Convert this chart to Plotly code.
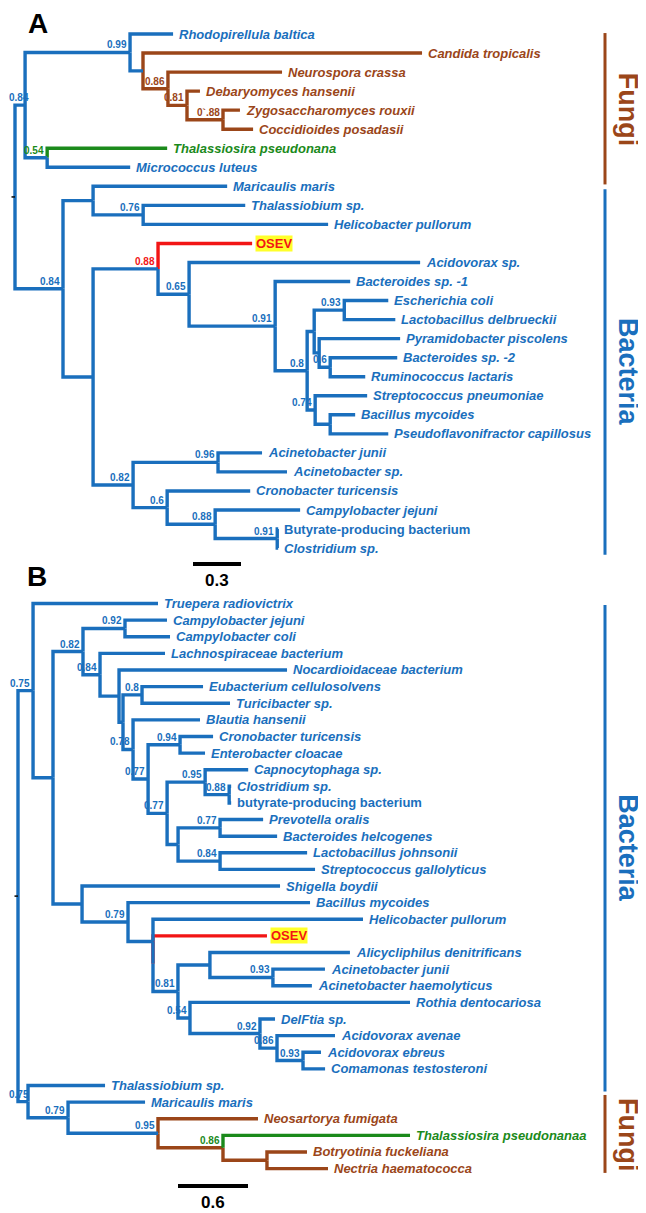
import plotly.graph_objects as go

# ------------------------------------------------------------------ data
# Panel A tree (Newick: branch lengths in substitutions/site, internal labels = support)
TREE_A = (
    "(((Rhodopirellula baltica:0.269,(Candida tropicalis:1.744,(Neurospora crassa:0.713,"
    "(Debaryomyces hansenii:0.081,(Zygosaccharomyces rouxii:0.106,Coccidioides posadasii:0.188)0`.88:0.225)0.81:0.119)0.86:0.156):0.081)0.99:0.656,"
    "(Thalassiosira pseudonana:0.75,Micrococcus luteus:0.519)0.54:0.138)0.84:0.063,"
    "((Maricaulis maris:0.838,(Thalassiobium sp.:0.638,Helicobacter pullorum:1.156)0.76:0.313):0.188,"
    "((OSEV:0.588,(Acidovorax sp.:1.444,(Bacteroides sp. -1:0.469,"
    "(((Escherichia coli:0.275,Lactobacillus delbrueckii:0.319)0.93:0.188,"
    "(Pyramidobacter piscolens:0.506,(Bacteroides sp. -2:0.419,Ruminococcus lactaris:0.219)0.6:0.069):0.031):0.044,"
    "(Streptococcus pneumoniae:0.325,(Bacillus mycoides:0.156,Pseudoflavonifractor capillosus:0.363):0.094)0.74:0.05)0.8:0.2)0.91:0.538)0.65:0.194)0.88:0.406,"
    "((Acinetobacter junii:0.275,Acinetobacter sp.:0.431)0.96:0.531,"
    "(Cronobacter turicensis:0.519,(Campylobacter jejuni:0.531,"
    "(Butyrate-producing bacterium:0.006,Clostridium sp.:0.006)0.91:0.388)0.88:0.3)0.6:0.213)0.82:0.25):0.188)0.84:0.3);"
)

# Panel B tree
TREE_B = (
    "((Truepera radiovictrix:1.071,"
    "(((Campylobacter jejuni:0.36,Campylobacter coli:0.386)0.92:0.36,"
    "(Lachnospiraceae bacterium:0.557,(Nocardioidaceae bacterium:1.44,"
    "((Eubacterium cellulosolvens:0.523,Turicibacter sp.:0.754)0.8:0.163,"
    "(Blautia hansenii:0.574,((Cronobacter turicensis:0.283,Enterobacter cloacae:0.214)0.94:0.274,"
    "((Capnocytophaga sp.:0.369,(Clostridium sp.:0.017,butyrate-producing bacterium:0.017)0.88:0.206)0.95:0.326,"
    "((Prevotella oralis:0.369,Bacteroides helcogenes:0.489)0.77:0.36,"
    "(Lactobacillus johnsonii:0.746,Streptococcus gallolyticus:0.814)0.84:0.36):0.094)0.77:0.163)0.77:0.129)0.78:0.086"
    "):0.034):0.163)0.84:0.146)0.82:0.257,"
    "(Shigella boydii:1.697,(Bacillus mycoides:1.56,(Helicobacter pullorum:1.8,"
    "(OSEV:0.977,((Alicycliphilus denitrificans:1.2,(Acinetobacter junii:0.446,Acinetobacter haemolyticus:0.334)0.93:0.54):0.274,"
    "(Rothia dentocariosa:1.886,(DelFtia sp.:0.129,(Acidovorax avenae:0.497,"
    "(Acidovorax ebreus:0.154,Comamonas testosteroni:0.189)0.93:0.223)0.86:0.146)0.92:0.6)0.54:0.103)0.81:0.214):0.0"
    "):0.214)0.79:0.394):0.249):0.171)0.75:0.129,"
    "(Thalassiobium sp.:0.66,(Maricaulis maris:0.66,(Neosartorya fumigata:0.857,"
    "(Thalassiosira pseudonanaa:1.603,(Botryotinia fuckeliana:0.343,Nectria haematococca:0.523):0.377)0.86:0.557)0.95:0.771)0.79:0.343)0.75:0.086);"
)

FUNGI = ["Candida tropicalis", "Neurospora crassa", "Debaryomyces hansenii",
         "Zygosaccharomyces rouxii", "Coccidioides posadasii",
         "Neosartorya fumigata", "Botryotinia fuckeliana", "Nectria haematococca"]
DIATOMS = ["Thalassiosira pseudonana", "Thalassiosira pseudonanaa"]
QUERY = ["OSEV"]
UPRIGHT = ["Butyrate-producing bacterium", "butyrate-producing bacterium"]

SCALE_A = 0.3
SCALE_B = 0.6
SCALE_LABEL_A = "0.3"
SCALE_LABEL_B = "0.6"

# clade bars: (label, first leaf, last leaf)
CLADES_A = [("Fungi", "Rhodopirellula baltica", "Micrococcus luteus"),
            ("Bacteria", "Maricaulis maris", "Clostridium sp.")]
CLADES_B = [("Bacteria", "Truepera radiovictrix", "Thalassiobium sp."),
            ("Fungi", "Maricaulis maris", "Nectria haematococca")]

# ------------------------------------------------------------------ style
WIN_W, WIN_H = 646, 1213
OFF = 8                      # page body margin of the html page
W, H = WIN_W - OFF, WIN_H - OFF
BLUE = "#1a6fbd"
BROWN = "#9b4619"
GREEN = "#1b8a1b"
RED = "#f21515"
YELLOW = "#ffff2a"
FONT = "Liberation Sans, Arial, sans-serif"
LW = 3.4
LEAF_FS = 13
NODE_FS = 10


def px_x(rx):
    return (rx - OFF) / W


def px_y(ry):
    return 1 - (ry - OFF) / H


# pixel geometry of the two panels (window pixels)
PANEL = {
    "A": dict(xa="x", ya="y", root_px=15, ppu=160.0, leaf0_px=34.0, step=19.04,
              top_px=OFF, bot_px=600, scale=SCALE_A, scale_lbl=SCALE_LABEL_A,
              scale_px=(193, 564), clades=CLADES_A,
              bar_pad=[(-0.05, 0.9), (0.15, 0.35)]),
    "B": dict(xa="x2", ya="y2", root_px=18, ppu=116.67, leaf0_px=603.5, step=16.62,
              top_px=600, bot_px=WIN_H, scale=SCALE_B, scale_lbl=SCALE_LABEL_B,
              scale_px=(178, 1186), clades=CLADES_B,
              bar_pad=[(0.09, 0.36), (-0.43, 0.26)]),
}


def parse_newick(s):
    s = s.strip().rstrip(";")
    pos = 0

    def node():
        nonlocal pos
        n = {"children": [], "name": "", "len": 0.0}
        if s[pos] == "(":
            pos += 1
            while True:
                n["children"].append(node())
                if s[pos] == ",":
                    pos += 1
                    continue
                if s[pos] == ")":
                    pos += 1
                    break
        start = pos
        while pos < len(s) and s[pos] not in ",():":
            pos += 1
        n["name"] = s[start:pos].strip()
        if pos < len(s) and s[pos] == ":":
            pos += 1
            start = pos
            while pos < len(s) and s[pos] not in ",()":
                pos += 1
            n["len"] = float(s[start:pos])
        return n

    return node()


def cls(name):
    if name in FUNGI:
        return "fungi"
    if name in DIATOMS:
        return "diatom"
    if name in QUERY:
        return "query"
    return "bac"


CCOL = {"fungi": BROWN, "diatom": GREEN, "query": RED, "bac": BLUE}


def layout_tree(root):
    leaves = []

    def rec(n, x):
        n["x"] = x
        if not n["children"]:
            n["y"] = float(len(leaves))
            n["classes"] = {cls(n["name"])}
            leaves.append(n)
        else:
            for c in n["children"]:
                rec(c, x + c["len"])
            n["y"] = (n["children"][0]["y"] + n["children"][-1]["y"]) / 2
            n["classes"] = set().union(*[c["classes"] for c in n["children"]])

    rec(root, 0.0)
    return leaves


def edge_color(parent, child):
    if not child["children"]:
        return CCOL[cls(child["name"])]
    pc = parent["classes"]
    if "fungi" in pc and "bac" not in pc and "query" not in pc:
        return BROWN
    return BLUE


fig = go.Figure()
annotations = []

for key, tree_str in (("A", TREE_A), ("B", TREE_B)):
    P = PANEL[key]
    root = parse_newick(tree_str)
    leaves = layout_tree(root)
    leaf_idx = {l["name"]: l["y"] for l in leaves}
    xa, ya = P["xa"], P["ya"]
    xref, yref = xa, ya

    segs = {BROWN: ([], []), GREEN: ([], []), RED: ([], []), BLUE: ([], [])}
    node_labels = []

    def walk(n, in_color):
        for c in n["children"]:
            col = edge_color(n, c)
            xs, ys = segs[col]
            xs += [n["x"], n["x"], c["x"], None]
            ys += [n["y"], c["y"], c["y"], None]
            walk(c, col)
        if n["children"] and n["name"]:
            lc = in_color
            for c in n["children"]:
                if not c["children"] and cls(c["name"]) in ("diatom", "query"):
                    lc = CCOL[cls(c["name"])]
            node_labels.append((n, lc))

    walk(root, BLUE)

    for col in (BROWN, GREEN, RED, BLUE):
        xs, ys = segs[col]
        if xs:
            fig.add_trace(go.Scatter(x=xs, y=ys, mode="lines", xaxis=xa, yaxis=ya,
                                     line=dict(color=col, width=LW), hoverinfo="skip"))

    # tiny root stem
    fig.add_trace(go.Scatter(x=[root["x"] - 3.5 / P["ppu"], root["x"]], y=[root["y"], root["y"]],
                             mode="lines", xaxis=xa, yaxis=ya,
                             line=dict(color="#111111", width=1.6), hoverinfo="skip"))

    # leaf labels
    for l in leaves:
        name = l["name"]
        c = cls(name)
        if c == "query":
            annotations.append(dict(x=l["x"], y=l["y"], xref=xref, yref=yref,
                                    text="<b>" + name + "</b>", showarrow=False,
                                    xanchor="left", yanchor="middle", xshift=3,
                                    bgcolor=YELLOW, borderpad=0,
                                    font=dict(family=FONT, size=13, color=RED)))
            continue
        txt = "<b>" + name + "</b>" if name in UPRIGHT else "<b><i>" + name + "</i></b>"
        annotations.append(dict(x=l["x"], y=l["y"], xref=xref, yref=yref, text=txt,
                                showarrow=False, xanchor="left", yanchor="middle", xshift=4,
                                font=dict(family=FONT, size=LEAF_FS, color=CCOL[c])))

    # support values (kept inside the page on the left edge)
    for n, lc in node_labels:
        node_px = P["root_px"] + n["x"] * P["ppu"]
        est_w = 0.56 * NODE_FS * len(n["name"])
        xshift = max(-1.0, (OFF + 0.5 + est_w) - node_px)
        annotations.append(dict(x=n["x"], y=n["y"], xref=xref, yref=yref, text="<b>" + n["name"] + "</b>",
                                showarrow=False, xanchor="right", yanchor="bottom", xshift=xshift, yshift=0,
                                font=dict(family=FONT, size=NODE_FS, color=lc)))

    # scale bar
    sx0 = (P["scale_px"][0] - P["root_px"]) / P["ppu"]
    sy = (P["scale_px"][1] - P["leaf0_px"]) / P["step"]
    fig.add_trace(go.Scatter(x=[sx0, sx0 + P["scale"]], y=[sy, sy], mode="lines", xaxis=xa, yaxis=ya,
                             line=dict(color="black", width=4), hoverinfo="skip"))
    annotations.append(dict(x=sx0 + P["scale"] / 2, y=sy, xref=xref, yref=yref,
                            text="<b>" + P["scale_lbl"] + "</b>", showarrow=False,
                            xanchor="center", yanchor="top", yshift=-5,
                            font=dict(family=FONT, size=17, color="black")))

    # clade bars
    for (lbl, first, last), (pt, pb) in zip(P["clades"], P["bar_pad"]):
        y0 = leaf_idx[first] + pt
        y1 = leaf_idx[last] + pb
        col = BROWN if lbl == "Fungi" else BLUE
        bx = (605 - P["root_px"]) / P["ppu"]
        fig.add_trace(go.Scatter(x=[bx, bx], y=[y0, y1], mode="lines", xaxis=xa, yaxis=ya,
                                 line=dict(color=col, width=3), hoverinfo="skip"))
        annotations.append(dict(x=px_x(628), y=(y0 + y1) / 2, xref="paper", yref=yref,
                                text="<b>" + lbl + "</b>", showarrow=False, textangle=90,
                                xanchor="center", yanchor="middle",
                                font=dict(family=FONT, size=27, color=col)))

    # axes (ranges map window pixels to data units)
    xr = [(OFF - P["root_px"]) / P["ppu"], (WIN_W - P["root_px"]) / P["ppu"]]
    yr = [(P["bot_px"] - P["leaf0_px"]) / P["step"], (P["top_px"] - P["leaf0_px"]) / P["step"]]
    dom = [max(0.0, px_y(P["bot_px"])), min(1.0, px_y(P["top_px"]))]
    axname_x = "xaxis" if xa == "x" else "xaxis2"
    axname_y = "yaxis" if ya == "y" else "yaxis2"
    fig.update_layout(**{
        axname_x: dict(range=xr, domain=[0, 1], visible=False, anchor=ya, fixedrange=True),
        axname_y: dict(range=yr, domain=dom, visible=False, anchor=xa, fixedrange=True),
    })

# panel letters
annotations.append(dict(x=px_x(38), y=px_y(8), xref="paper", yref="paper", text="<b>A</b>",
                        showarrow=False, xanchor="center", yanchor="top", yshift=2,
                        font=dict(family=FONT, size=28, color="black")))
annotations.append(dict(x=px_x(37), y=px_y(576), xref="paper", yref="paper", text="<b>B</b>",
                        showarrow=False, xanchor="center", yanchor="middle",
                        font=dict(family=FONT, size=28, color="black")))

fig.update_layout(width=W, height=H, margin=dict(l=0, r=0, t=0, b=0),
                  paper_bgcolor="white", plot_bgcolor="white", showlegend=False,
                  hovermode=False, annotations=annotations)

fig.write_html("out.html")
